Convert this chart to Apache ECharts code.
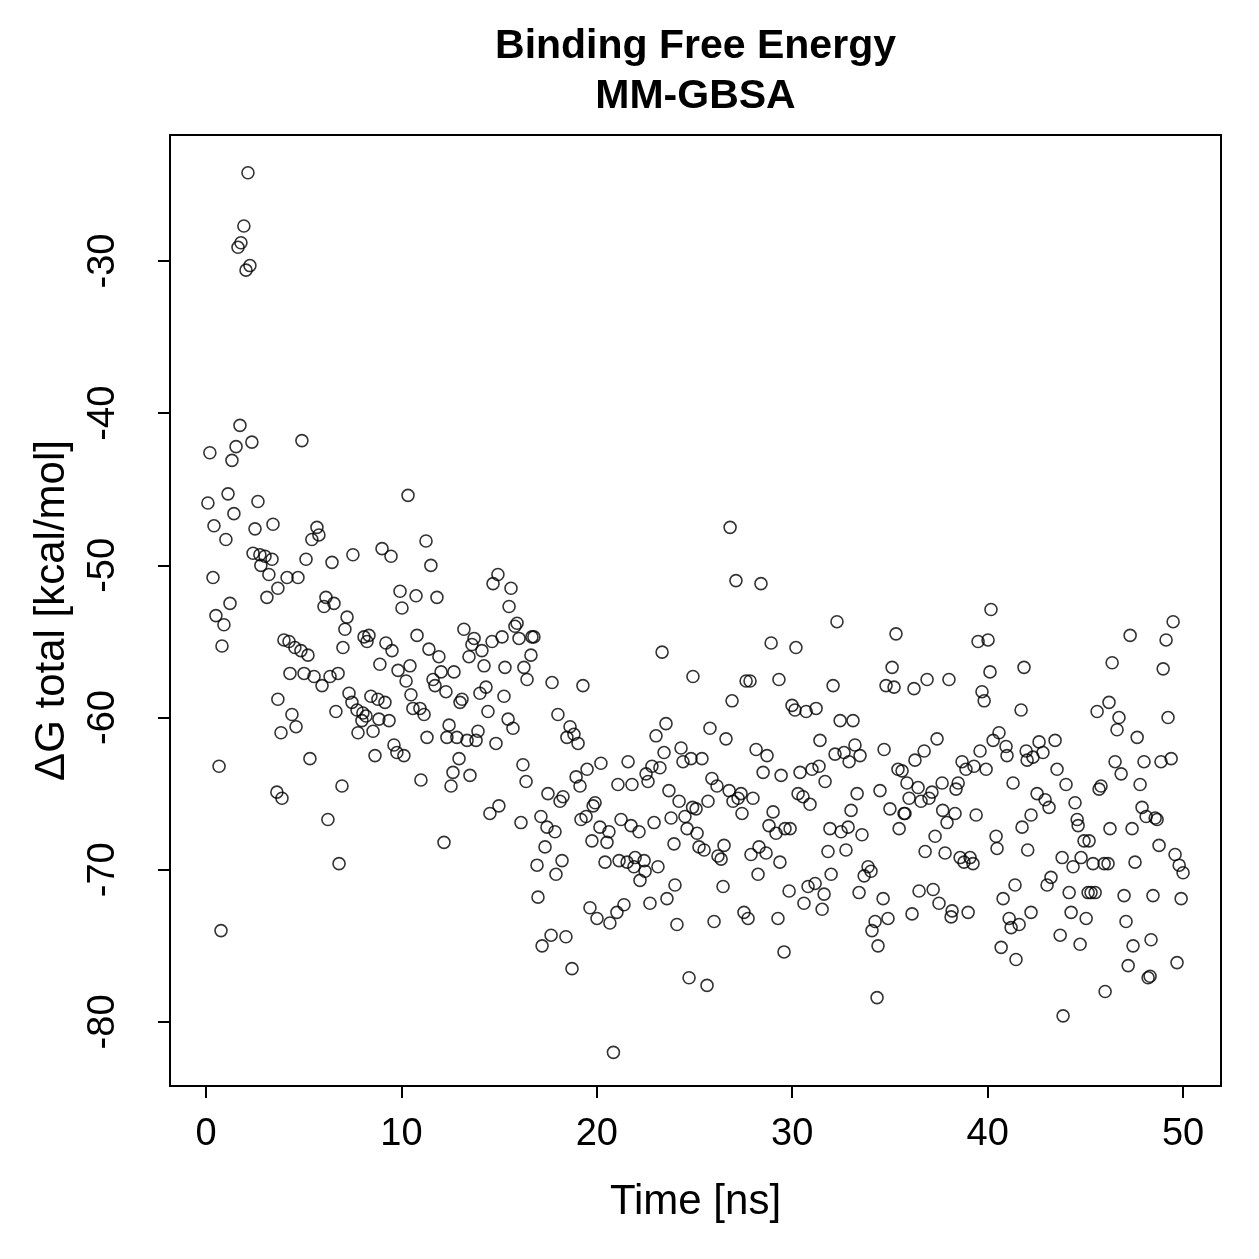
<!DOCTYPE html>
<html>
<head>
<meta charset="utf-8">
<script src="https://cdn.jsdelivr.net/npm/echarts@6/dist/echarts.min.js"></script>
<style>html,body{margin:0;padding:0;background:#fff}#c{width:1259px;height:1259px}</style>
</head>
<body>
<div id="c"></div>
<script>
const titleLines = ['Binding Free Energy', 'MM-GBSA'];
const xLabel = 'Time [ns]';
const yLabel = 'ΔG total [kcal/mol]';
const xTicks = [0, 10, 20, 30, 40, 50];
const yTicks = [-80, -70, -60, -50, -40, -30];

const timeNs = [
0.10,0.20,0.36,0.41,0.51,0.67,0.77,0.82,0.92,1.02,1.13,1.23,1.33,1.43,1.54,1.64,1.74,1.79,1.94,2.05,2.15,2.25,2.35,2.41,2.51,2.66,2.76,2.81,3.02,3.12,3.22,3.38,3.43,
3.68,3.68,3.84,3.63,3.89,3.99,4.25,4.15,4.30,4.40,4.55,4.61,4.71,4.86,4.91,5.02,5.12,5.22,5.32,5.42,5.53,5.68,5.78,5.94,6.04,6.14,6.24,6.35,6.45,6.55,6.65,6.76,6.81,6.96,7.01,7.11,7.22,7.32,7.47,7.52,7.73,7.78,
7.98,8.03,8.09,8.19,8.24,8.34,8.44,8.55,8.65,8.80,8.85,8.90,9.01,9.16,9.21,9.37,9.47,9.52,9.62,9.77,9.83,9.93,10.03,10.13,10.24,10.34,10.44,10.49,10.59,10.75,10.80,10.95,11.00,11.16,11.26,11.31,11.41,11.51,11.62,11.72,11.82,11.92,12.03,
12.18,12.28,12.33,12.44,12.54,12.64,12.69,12.84,12.95,13.00,13.10,13.20,13.36,13.46,13.51,13.61,13.72,13.82,13.92,14.02,14.12,14.23,14.33,14.43,14.53,14.64,14.69,14.84,14.94,14.99,15.15,15.25,15.30,15.46,15.51,15.61,15.71,15.81,15.92,16.02,16.12,16.22,16.27,
16.38,16.43,16.63,16.68,16.78,16.94,16.99,17.14,17.20,17.35,17.45,17.50,17.66,17.71,17.86,17.91,18.01,18.12,18.22,18.27,18.42,18.47,18.63,18.73,18.83,18.94,19.04,19.14,19.19,19.29,19.45,19.50,19.65,19.75,19.81,19.91,20.01,20.16,20.21,20.42,20.52,
20.62,20.67,20.85,21.03,21.08,21.14,21.24,21.39,21.55,21.60,21.75,21.80,21.90,21.96,22.16,22.21,22.42,22.47,22.52,22.62,22.72,22.82,22.93,23.03,23.13,23.23,23.34,23.44,23.54,23.59,23.69,23.80,23.95,24.00,24.10,24.21,24.31,24.41,24.51,24.62,24.72,24.82,
24.92,24.90,25.08,25.13,25.23,25.38,25.49,25.64,25.69,25.79,25.89,26.00,26.15,26.20,26.36,26.46,26.51,26.61,26.77,26.82,26.92,26.97,27.12,27.23,27.38,27.43,27.53,27.64,27.74,27.84,27.89,27.99,28.15,28.25,28.30,28.40,28.51,28.66,28.71,28.81,28.92,29.02,
29.17,29.32,29.43,29.37,29.27,29.58,29.63,29.84,29.89,29.99,30.14,30.19,30.30,30.40,30.55,30.60,30.71,30.81,30.91,31.01,31.17,31.22,31.37,31.42,31.53,31.63,31.68,31.83,31.93,31.99,32.09,32.19,32.29,32.45,32.50,32.65,32.75,32.86,32.91,33.01,33.11,33.21,33.32,
33.47,33.42,33.57,33.68,33.88,34.03,34.08,34.24,34.34,34.39,34.49,34.65,34.70,34.80,34.90,35.00,35.11,35.21,35.31,35.41,35.47,35.62,35.72,35.77,35.87,35.98,36.13,36.23,36.28,36.44,36.49,36.59,36.75,36.80,36.90,37.00,37.15,37.21,37.31,37.41,37.51,
37.67,37.70,37.82,37.92,38.02,38.13,38.18,38.33,38.38,38.49,38.59,38.69,38.79,38.89,39.00,39.10,39.25,39.30,39.41,39.51,39.61,39.71,39.82,39.92,40.02,40.12,40.17,40.28,40.43,40.48,40.58,40.69,40.79,40.94,40.99,41.10,41.20,41.30,41.40,41.45,41.61,41.71,41.76,41.86,41.97,42.02,42.05,
42.22,42.22,42.32,42.63,42.83,42.53,42.94,43.14,43.24,43.04,43.45,43.55,43.71,43.86,43.81,44.01,44.17,44.27,44.37,44.47,44.58,44.63,44.73,44.78,44.93,45.04,45.14,45.19,45.29,45.39,45.50,45.60,45.70,45.80,45.96,46.01,46.16,46.21,46.26,46.37,46.52,46.62,46.72,46.83,46.98,47.08,47.19,47.29,47.39,47.44,47.54,47.65,47.80,47.90,48.00,48.11,48.21,48.31,48.36,48.46,48.57,48.67,48.77,48.87,48.98,49.13,49.23,49.39,49.49,49.59,49.69,49.80,49.90,50.00
];
const deltaG = [
-45.9,-42.6,-50.8,-47.4,-53.3,-63.2,-74.0,-55.3,-53.9,-48.3,-45.3,-52.5,-43.1,-46.6,-42.2,-29.1,-40.8,-28.8,-27.7,-30.6,-24.2,-30.3,-41.9,-49.2,-47.6,-45.8,-49.3,-50.0,-49.4,-52.1,-50.6,-49.6,-47.3,
-51.5,-58.8,-61.0,-64.9,-65.3,-54.9,-55.0,-50.8,-57.1,-59.8,-55.4,-60.6,-50.8,-55.6,-41.8,-57.1,-49.6,-55.9,-62.7,-48.3,-57.3,-47.5,-48.0,-57.9,-52.7,-52.1,-66.7,-57.3,-49.8,-52.5,-59.6,-57.1,-69.6,-64.5,-55.4,-54.2,-53.4,-58.4,-59.0,-49.3,-59.5,-61.0,
-60.2,-59.7,-54.7,-59.9,-55.0,-54.6,-58.6,-60.9,-62.5,-58.8,-60.1,-56.5,-48.9,-59.0,-55.1,-60.2,-49.4,-55.6,-61.8,-62.3,-56.9,-51.7,-52.8,-62.5,-57.6,-45.4,-56.6,-58.5,-59.4,-52.0,-54.6,-59.4,-64.1,-59.8,-48.4,-61.3,-55.5,-50.0,-57.5,-57.9,-52.1,-56.0,-57.0,
-68.2,-58.3,-61.3,-60.5,-64.5,-63.6,-57.0,-61.3,-62.7,-59.0,-58.8,-54.2,-61.5,-56.0,-63.8,-55.2,-54.8,-61.5,-60.9,-58.4,-55.6,-56.6,-58.0,-59.6,-66.3,-55.0,-51.2,-61.7,-50.6,-65.8,-54.7,-58.6,-56.7,-60.1,-52.7,-51.5,-60.7,-54.0,-53.8,-54.8,-66.9,-63.1,-56.7,
-64.2,-57.5,-55.9,-54.7,-54.7,-69.7,-71.8,-66.5,-75.0,-68.5,-67.2,-65.0,-74.3,-57.7,-67.5,-70.3,-59.8,-65.5,-69.4,-65.2,-74.4,-61.3,-60.6,-76.5,-61.1,-63.9,-61.7,-64.5,-66.7,-57.9,-66.5,-63.4,-72.5,-68.1,-65.8,-65.6,-73.2,-67.2,-63.0,-69.5,-68.2,
-67.5,-73.5,-82.0,-72.8,-64.4,-69.4,-66.7,-72.3,-69.5,-62.9,-67.1,-64.4,-69.8,-69.2,-67.5,-70.7,-69.4,-70.1,-63.7,-64.2,-72.2,-63.2,-66.9,-61.2,-69.8,-63.3,-55.7,-62.3,-60.4,-71.9,-64.8,-66.6,-68.3,-71.0,-73.6,-65.5,-62.0,-62.9,-66.5,-67.3,-77.1,-62.7,
-57.3,-65.9,-66.0,-67.6,-68.5,-62.7,-68.7,-77.6,-65.5,-60.7,-64.0,-73.4,-64.5,-69.1,-69.3,-71.1,-68.4,-61.4,-64.8,-47.5,-58.9,-65.5,-51.0,-65.3,-65.0,-66.3,-72.8,-57.6,-73.2,-57.6,-69.0,-65.3,-62.1,-70.3,-68.5,-51.2,-63.6,-68.9,-62.5,-67.1,-55.1,-66.2,
-67.6,-57.5,-63.8,-69.5,-73.2,-75.4,-67.3,-71.4,-67.3,-59.2,-59.5,-55.4,-65.0,-63.6,-65.2,-72.2,-59.6,-71.1,-65.7,-63.4,-70.9,-59.4,-63.2,-61.5,-72.6,-71.6,-64.2,-68.8,-67.3,-70.3,-57.9,-62.4,-53.7,-60.2,-67.5,-62.3,-68.7,-67.2,-62.9,-66.1,-60.2,-61.8,-65.0,
-62.5,-71.5,-67.7,-70.4,-69.8,-70.1,-74.0,-73.4,-78.4,-75.0,-64.8,-71.9,-62.1,-57.9,-73.2,-66.0,-56.7,-58.0,-54.5,-63.4,-67.3,-63.5,-66.3,-66.3,-64.3,-65.3,-72.9,-58.1,-62.8,-64.6,-71.4,-65.5,-62.2,-68.8,-57.5,-65.3,-64.9,-71.3,-67.8,-61.4,-72.2,
-64.3,-66.1,-68.9,-66.9,-57.5,-73.1,-72.7,-66.3,-64.7,-64.3,-69.2,-62.9,-69.5,-63.4,-72.8,-69.2,-69.6,-63.2,-66.4,-55.0,-62.2,-58.3,-58.9,-63.4,-54.9,-57.0,-52.9,-61.5,-67.8,-68.6,-61.0,-75.1,-71.9,-61.9,-62.5,-73.2,-73.8,-64.3,-71.0,-75.9,-73.6,-59.5,-67.2,-56.7,-62.2,-62.8,-68.7,
-66.4,-72.8,-62.6,-61.6,-62.3,-65.0,-65.4,-65.9,-70.5,-71.0,-61.5,-63.4,-74.3,-79.6,-69.2,-64.4,-71.5,-72.8,-69.8,-65.6,-66.7,-67.1,-74.9,-69.2,-68.1,-73.2,-71.5,-68.1,-71.5,-69.6,-71.5,-59.6,-64.7,-64.5,-69.6,-78.0,-69.6,-59.0,-67.3,-56.4,-62.9,-60.8,-60.0,-63.7,-71.7,-73.4,-76.3,-54.6,-67.3,-75.0,-69.5,-61.3,-64.4,-65.9,-62.9,-66.5,-77.1,-77.0,-74.6,-71.7,-66.6,-66.7,-68.4,-62.9,-56.8,-54.9,-60.0,-62.7,-53.7,-69.0,-76.1,-69.7,-71.9,-70.2
];

const points = timeNs.map((t, i) => [t, deltaG[i]]);
const FONT = '"Liberation Sans", Arial, Helvetica, sans-serif';

const chart = echarts.init(document.getElementById('c'), null, {renderer: 'canvas'});
chart.setOption({
  animation: false,
  backgroundColor: '#ffffff',
  grid: {left: 170, top: 135, width: 1051, height: 951, show: true, borderColor: '#000', borderWidth: 2, backgroundColor: 'transparent'},
  graphic: [
    {type: 'text', x: 695.5, y: 47, style: {text: titleLines[0], font: 'bold 41px ' + FONT, fill: '#000', align: 'center', verticalAlign: 'middle', textAlign: 'center', textVerticalAlign: 'middle'}},
    {type: 'text', x: 695.5, y: 97, style: {text: titleLines[1], font: 'bold 41px ' + FONT, fill: '#000', align: 'center', verticalAlign: 'middle', textAlign: 'center', textVerticalAlign: 'middle'}}
  ],
  xAxis: {
    type: 'value', min: -1.84, max: 51.94,
    axisLine: {show: false, onZero: false},
    splitLine: {show: false},
    axisTick: {show: true, customValues: xTicks, length: 12, lineStyle: {color: '#000', width: 2}},
    axisLabel: {customValues: xTicks, color: '#000', fontSize: 38, fontFamily: FONT, margin: 30},
    name: xLabel, nameLocation: 'middle', nameGap: 95, nameMoveOverlap: false,
    nameTextStyle: {color: '#000', fontSize: 42, fontFamily: FONT}
  },
  yAxis: {
    type: 'value', min: -84.21, max: -21.72,
    axisLine: {show: false, onZero: false},
    splitLine: {show: false},
    axisTick: {show: true, customValues: yTicks, length: 12, lineStyle: {color: '#000', width: 2}},
    axisLabel: {customValues: yTicks, color: '#000', fontSize: 38, fontFamily: FONT, rotate: 90, margin: 47},
    name: yLabel, nameLocation: 'middle', nameGap: 97, nameMoveOverlap: false,
    nameTextStyle: {color: '#000', fontSize: 42, fontFamily: FONT}
  },
  series: [{
    type: 'scatter',
    data: points,
    symbol: 'circle',
    symbolSize: 12,
    itemStyle: {color: 'rgba(0,0,0,0)', borderColor: '#000', borderWidth: 1.6},
    emphasis: {disabled: true}
  }]
});
</script>
</body>
</html>
